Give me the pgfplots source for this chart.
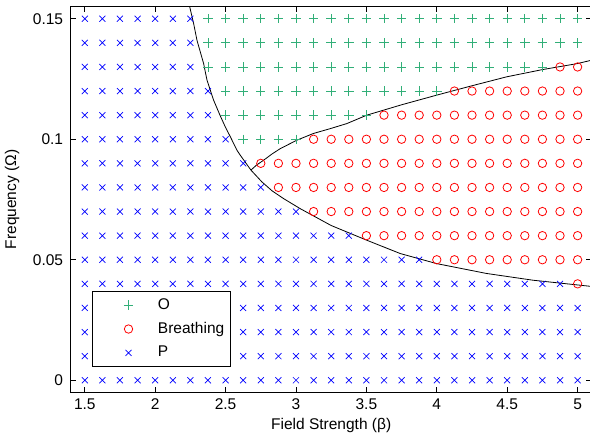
\documentclass[border=0pt]{standalone}
\usepackage{pgfplots}
\pgfplotsset{compat=1.18}
\usepackage{fontspec}
\setmainfont{Liberation Sans}
\definecolor{ocol}{RGB}{50,175,120}
\definecolor{bcol}{RGB}{255,0,0}
\definecolor{pcol}{RGB}{0,0,255}

\begin{document}
\fontsize{15.5bp}{18bp}\selectfont
\begin{tikzpicture}
\begin{axis}[
  at={(0,0)}, anchor=south west,
  scale only axis, width=521bp, height=385.6bp,
  xmin=1.4, xmax=5.1, ymin=-0.005, ymax=0.155,
  xtick={1.5,2,2.5,3,3.5,4,4.5,5},
  xticklabels={1.5,2,2.5,3,3.5,4,4.5,5},
  ytick={0,0.05,0.1,0.15},
  yticklabels={0,0.05,0.1,0.15},
  /pgf/number format/assume math mode=true,
  tick align=inside, tick pos=both, major tick length=5.5bp,
  axis line style={line width=0.9bp},
  every tick/.style={black, line width=0.8bp},
  xticklabel style={anchor=north, inner sep=0pt, yshift=-6.5bp},
  yticklabel style={anchor=east, inner sep=0pt, xshift=-7.4bp},
  xlabel={Field Strength (β)},
  ylabel={Frequency (Ω)},
  every axis x label/.style={at={(axis description cs:0.5,0)}, anchor=center, yshift=-32.7bp},
  every axis y label/.style={at={(axis description cs:0,0.5)}, xshift=-58.7bp, anchor=center, rotate=90},
  clip=true,
  legend cell align=left,
  legend image code/.code={%
    \path (0bp,0bp) (44.7bp,0bp);
    \draw[mark repeat=2,mark phase=2] plot coordinates {(14.7bp,0bp)(29.7bp,0bp)(44.7bp,0bp)};},
  legend style={at={(rel axis cs:0.0415,0.0664)}, anchor=south west,
    draw=black, line width=0.8bp, fill=white,
    inner xsep=5.7bp, inner ysep=7bp, row sep=10.5bp, column sep=14bp,
    nodes={inner sep=0pt}},
]
% O regime
\addplot[ocol, only marks, mark=+, mark size=4.7bp, line width=0.8bp] coordinates {
(2.375,0.15) (2.5,0.15) (2.625,0.15) (2.75,0.15) (2.875,0.15) (3,0.15) (3.125,0.15) (3.25,0.15) (3.375,0.15) (3.5,0.15) (3.625,0.15) (3.75,0.15) (3.875,0.15) (4,0.15) (4.125,0.15) (4.25,0.15) (4.375,0.15) (4.5,0.15) (4.625,0.15) (4.75,0.15) (4.875,0.15) (5,0.15)
(2.375,0.14) (2.5,0.14) (2.625,0.14) (2.75,0.14) (2.875,0.14) (3,0.14) (3.125,0.14) (3.25,0.14) (3.375,0.14) (3.5,0.14) (3.625,0.14) (3.75,0.14) (3.875,0.14) (4,0.14) (4.125,0.14) (4.25,0.14) (4.375,0.14) (4.5,0.14) (4.625,0.14) (4.75,0.14) (4.875,0.14) (5,0.14)
(2.375,0.13) (2.5,0.13) (2.625,0.13) (2.75,0.13) (2.875,0.13) (3,0.13) (3.125,0.13) (3.25,0.13) (3.375,0.13) (3.5,0.13) (3.625,0.13) (3.75,0.13) (3.875,0.13) (4,0.13) (4.125,0.13) (4.25,0.13) (4.375,0.13) (4.5,0.13) (4.625,0.13) (4.75,0.13)
(2.5,0.12) (2.625,0.12) (2.75,0.12) (2.875,0.12) (3,0.12) (3.125,0.12) (3.25,0.12) (3.375,0.12) (3.5,0.12) (3.625,0.12) (3.75,0.12) (3.875,0.12) (4,0.12)
(2.5,0.11) (2.625,0.11) (2.75,0.11) (2.875,0.11) (3,0.11) (3.125,0.11) (3.25,0.11) (3.375,0.11) (3.5,0.11)
(2.625,0.10) (2.75,0.10) (2.875,0.10) (3,0.10)
};
\addlegendentry{O}
% Breathing regime
\addplot[bcol, only marks, mark=o, mark size=4.2bp, line width=0.8bp] coordinates {
(4.875,0.13) (5,0.13)
(4.125,0.12) (4.25,0.12) (4.375,0.12) (4.5,0.12) (4.625,0.12) (4.75,0.12) (4.875,0.12) (5,0.12)
(3.625,0.11) (3.75,0.11) (3.875,0.11) (4,0.11) (4.125,0.11) (4.25,0.11) (4.375,0.11) (4.5,0.11) (4.625,0.11) (4.75,0.11) (4.875,0.11) (5,0.11)
(3.125,0.10) (3.25,0.10) (3.375,0.10) (3.5,0.10) (3.625,0.10) (3.75,0.10) (3.875,0.10) (4,0.10) (4.125,0.10) (4.25,0.10) (4.375,0.10) (4.5,0.10) (4.625,0.10) (4.75,0.10) (4.875,0.10) (5,0.10)
(2.75,0.09) (2.875,0.09) (3,0.09) (3.125,0.09) (3.25,0.09) (3.375,0.09) (3.5,0.09) (3.625,0.09) (3.75,0.09) (3.875,0.09) (4,0.09) (4.125,0.09) (4.25,0.09) (4.375,0.09) (4.5,0.09) (4.625,0.09) (4.75,0.09) (4.875,0.09) (5,0.09)
(2.875,0.08) (3,0.08) (3.125,0.08) (3.25,0.08) (3.375,0.08) (3.5,0.08) (3.625,0.08) (3.75,0.08) (3.875,0.08) (4,0.08) (4.125,0.08) (4.25,0.08) (4.375,0.08) (4.5,0.08) (4.625,0.08) (4.75,0.08) (4.875,0.08) (5,0.08)
(3.125,0.07) (3.25,0.07) (3.375,0.07) (3.5,0.07) (3.625,0.07) (3.75,0.07) (3.875,0.07) (4,0.07) (4.125,0.07) (4.25,0.07) (4.375,0.07) (4.5,0.07) (4.625,0.07) (4.75,0.07) (4.875,0.07) (5,0.07)
(3.5,0.06) (3.625,0.06) (3.75,0.06) (3.875,0.06) (4,0.06) (4.125,0.06) (4.25,0.06) (4.375,0.06) (4.5,0.06) (4.625,0.06) (4.75,0.06) (4.875,0.06) (5,0.06)
(4,0.05) (4.125,0.05) (4.25,0.05) (4.375,0.05) (4.5,0.05) (4.625,0.05) (4.75,0.05) (4.875,0.05) (5,0.05)
(5,0.04)
};
\addlegendentry{Breathing}
% P regime
\addplot[pcol, only marks, mark=x, mark size=4.25bp, line width=0.7bp] coordinates {
(1.5,0.15) (1.625,0.15) (1.75,0.15) (1.875,0.15) (2,0.15) (2.125,0.15) (2.25,0.15)
(1.5,0.14) (1.625,0.14) (1.75,0.14) (1.875,0.14) (2,0.14) (2.125,0.14) (2.25,0.14)
(1.5,0.13) (1.625,0.13) (1.75,0.13) (1.875,0.13) (2,0.13) (2.125,0.13) (2.25,0.13)
(1.5,0.12) (1.625,0.12) (1.75,0.12) (1.875,0.12) (2,0.12) (2.125,0.12) (2.25,0.12) (2.375,0.12)
(1.5,0.11) (1.625,0.11) (1.75,0.11) (1.875,0.11) (2,0.11) (2.125,0.11) (2.25,0.11) (2.375,0.11)
(1.5,0.10) (1.625,0.10) (1.75,0.10) (1.875,0.10) (2,0.10) (2.125,0.10) (2.25,0.10) (2.375,0.10) (2.5,0.10)
(1.5,0.09) (1.625,0.09) (1.75,0.09) (1.875,0.09) (2,0.09) (2.125,0.09) (2.25,0.09) (2.375,0.09) (2.5,0.09) (2.625,0.09)
(1.5,0.08) (1.625,0.08) (1.75,0.08) (1.875,0.08) (2,0.08) (2.125,0.08) (2.25,0.08) (2.375,0.08) (2.5,0.08) (2.625,0.08) (2.75,0.08)
(1.5,0.07) (1.625,0.07) (1.75,0.07) (1.875,0.07) (2,0.07) (2.125,0.07) (2.25,0.07) (2.375,0.07) (2.5,0.07) (2.625,0.07) (2.75,0.07) (2.875,0.07) (3,0.07)
(1.5,0.06) (1.625,0.06) (1.75,0.06) (1.875,0.06) (2,0.06) (2.125,0.06) (2.25,0.06) (2.375,0.06) (2.5,0.06) (2.625,0.06) (2.75,0.06) (2.875,0.06) (3,0.06) (3.125,0.06) (3.25,0.06) (3.375,0.06)
(1.5,0.05) (1.625,0.05) (1.75,0.05) (1.875,0.05) (2,0.05) (2.125,0.05) (2.25,0.05) (2.375,0.05) (2.5,0.05) (2.625,0.05) (2.75,0.05) (2.875,0.05) (3,0.05) (3.125,0.05) (3.25,0.05) (3.375,0.05) (3.5,0.05) (3.625,0.05) (3.75,0.05) (3.875,0.05)
(1.5,0.04) (1.625,0.04) (1.75,0.04) (1.875,0.04) (2,0.04) (2.125,0.04) (2.25,0.04) (2.375,0.04) (2.5,0.04) (2.625,0.04) (2.75,0.04) (2.875,0.04) (3,0.04) (3.125,0.04) (3.25,0.04) (3.375,0.04) (3.5,0.04) (3.625,0.04) (3.75,0.04) (3.875,0.04) (4,0.04) (4.125,0.04) (4.25,0.04) (4.375,0.04) (4.5,0.04) (4.625,0.04) (4.75,0.04) (4.875,0.04)
(1.5,0.03) (1.625,0.03) (1.75,0.03) (1.875,0.03) (2,0.03) (2.125,0.03) (2.25,0.03) (2.375,0.03) (2.5,0.03) (2.625,0.03) (2.75,0.03) (2.875,0.03) (3,0.03) (3.125,0.03) (3.25,0.03) (3.375,0.03) (3.5,0.03) (3.625,0.03) (3.75,0.03) (3.875,0.03) (4,0.03) (4.125,0.03) (4.25,0.03) (4.375,0.03) (4.5,0.03) (4.625,0.03) (4.75,0.03) (4.875,0.03) (5,0.03)
(1.5,0.02) (1.625,0.02) (1.75,0.02) (1.875,0.02) (2,0.02) (2.125,0.02) (2.25,0.02) (2.375,0.02) (2.5,0.02) (2.625,0.02) (2.75,0.02) (2.875,0.02) (3,0.02) (3.125,0.02) (3.25,0.02) (3.375,0.02) (3.5,0.02) (3.625,0.02) (3.75,0.02) (3.875,0.02) (4,0.02) (4.125,0.02) (4.25,0.02) (4.375,0.02) (4.5,0.02) (4.625,0.02) (4.75,0.02) (4.875,0.02) (5,0.02)
(1.5,0.01) (1.625,0.01) (1.75,0.01) (1.875,0.01) (2,0.01) (2.125,0.01) (2.25,0.01) (2.375,0.01) (2.5,0.01) (2.625,0.01) (2.75,0.01) (2.875,0.01) (3,0.01) (3.125,0.01) (3.25,0.01) (3.375,0.01) (3.5,0.01) (3.625,0.01) (3.75,0.01) (3.875,0.01) (4,0.01) (4.125,0.01) (4.25,0.01) (4.375,0.01) (4.5,0.01) (4.625,0.01) (4.75,0.01) (4.875,0.01) (5,0.01)
(1.5,0) (1.625,0) (1.75,0) (1.875,0) (2,0) (2.125,0) (2.25,0) (2.375,0) (2.5,0) (2.625,0) (2.75,0) (2.875,0) (3,0) (3.125,0) (3.25,0) (3.375,0) (3.5,0) (3.625,0) (3.75,0) (3.875,0) (4,0) (4.125,0) (4.25,0) (4.375,0) (4.5,0) (4.625,0) (4.75,0) (4.875,0) (5,0)
};
\addlegendentry{P}
% lower boundary of the O / Breathing regimes
\addplot[black, line width=0.8bp, no marks, forget plot] coordinates {
(2.236,0.158) (2.245,0.155) (2.273,0.148) (2.297,0.141) (2.344,0.1314) (2.368,0.1245)
(2.415,0.1162) (2.46,0.1100) (2.498,0.1051) (2.534,0.1010) (2.581,0.0954) (2.604,0.0934)
(2.68,0.0872) (2.758,0.0823) (2.83,0.0786) (2.911,0.0754) (3.03,0.0712) (3.25,0.0642)
(3.503,0.0581) (3.739,0.0526) (3.999,0.0484) (4.354,0.0443) (4.684,0.0415) (5.12,0.0388)
};
% boundary between O and Breathing
\addplot[black, line width=0.8bp, no marks, forget plot] coordinates {
(2.68,0.0872) (2.72,0.0893) (2.77,0.0913) (2.83,0.0939) (2.888,0.0961) (3.006,0.0996)
(3.124,0.1024) (3.243,0.1044) (3.361,0.1065) (3.503,0.1100) (3.75,0.1143) (3.999,0.1183)
(4.25,0.1222) (4.496,0.1259) (4.75,0.1289) (4.999,0.1314) (5.12,0.1331)
};
\end{axis}
\pgfresetboundingbox
\path[use as bounding box] (-70.7bp,-47.7bp) rectangle (519.3bp,392.3bp);
\end{tikzpicture}
\end{document}
